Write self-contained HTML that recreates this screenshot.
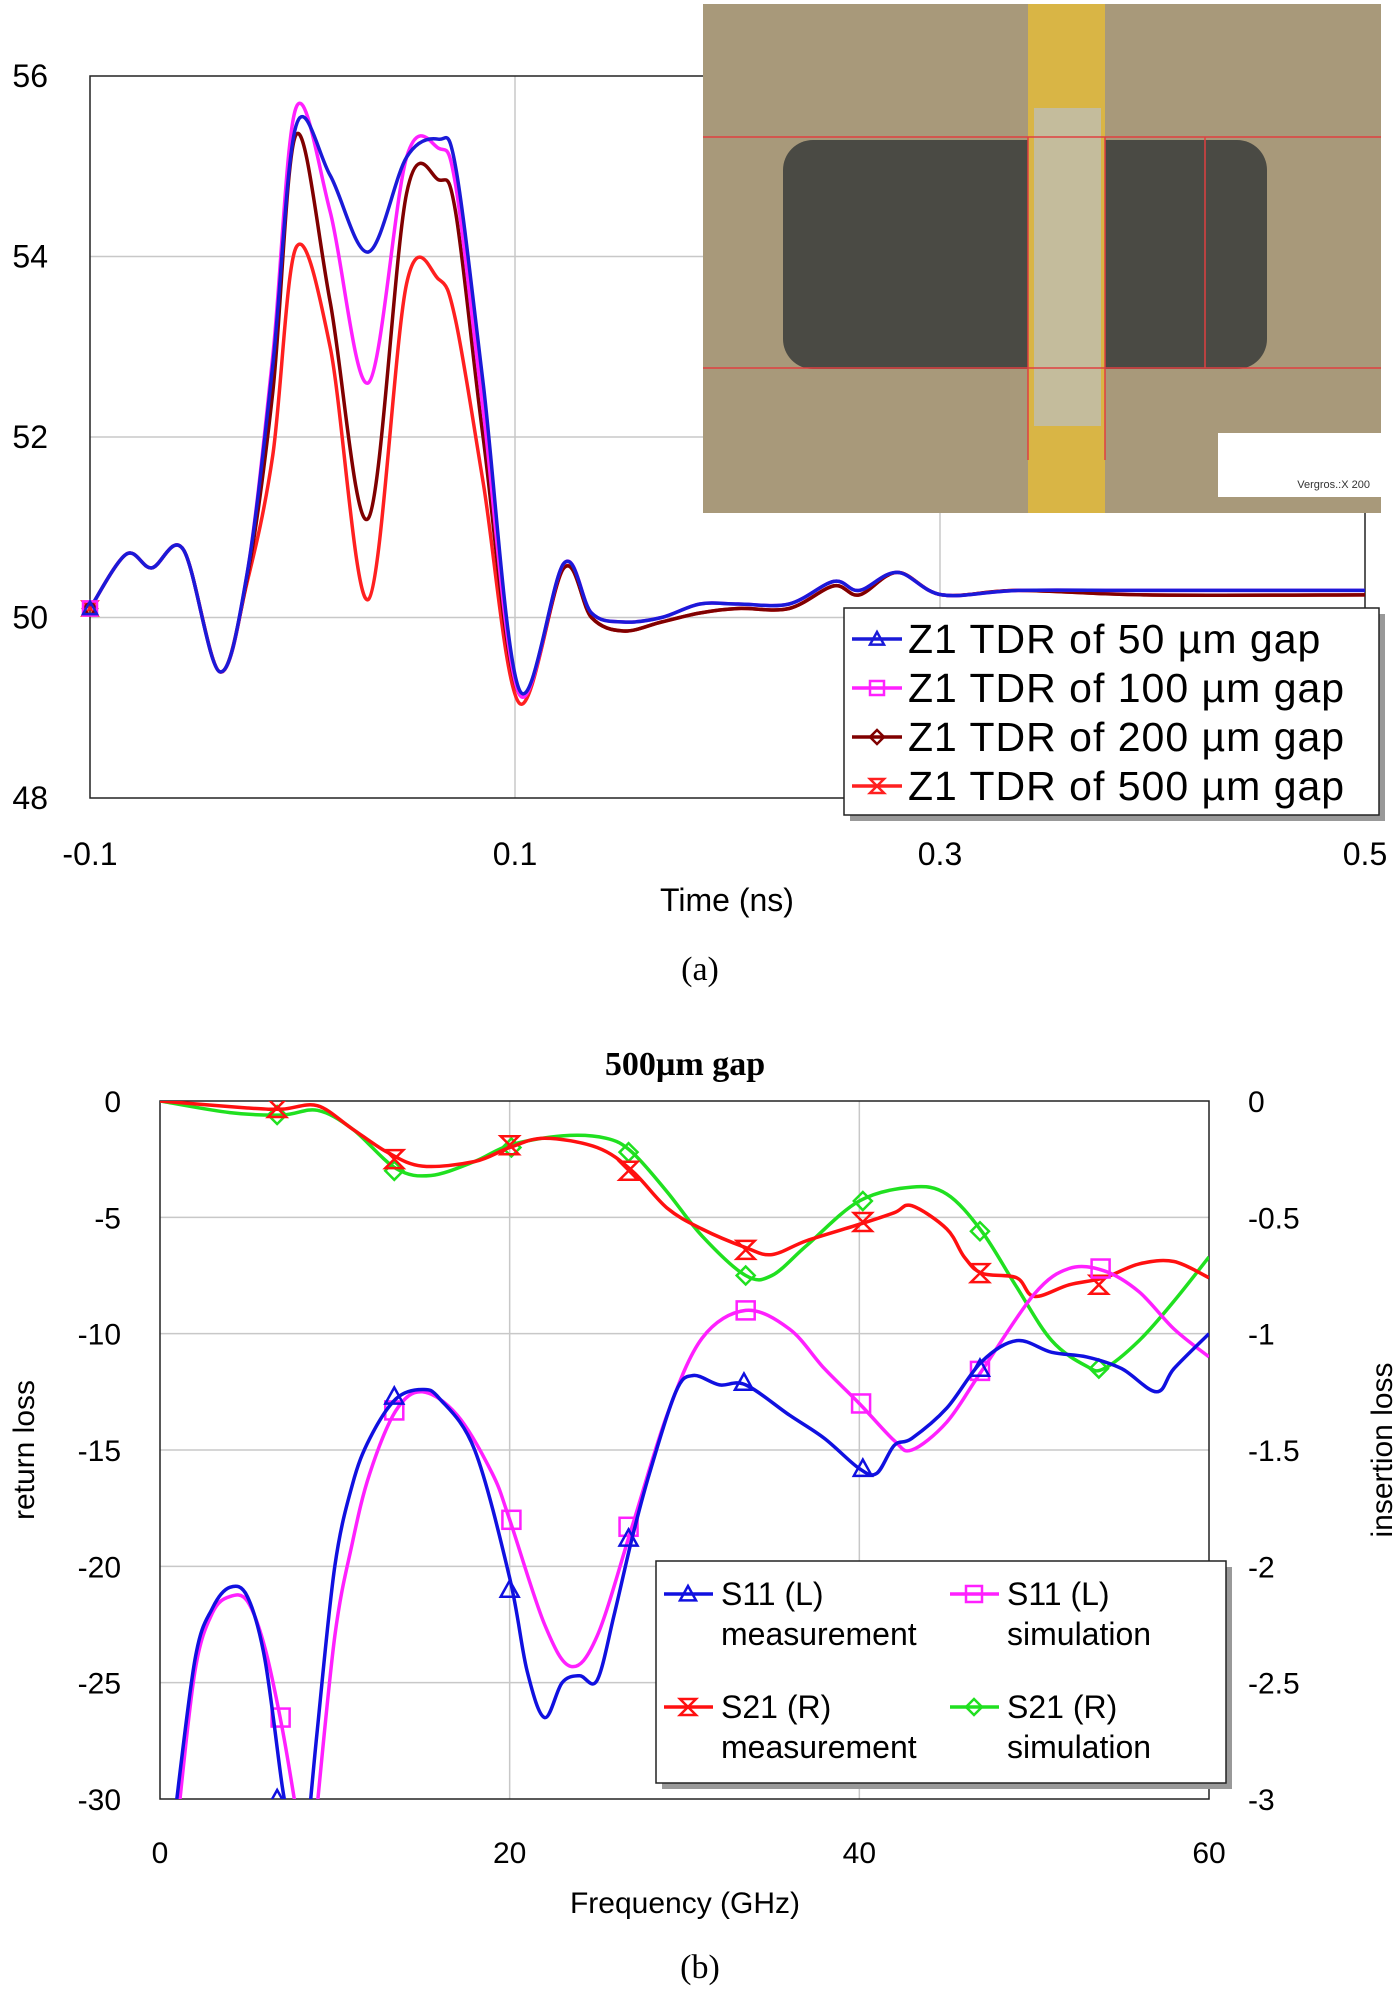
<!DOCTYPE html>
<html><head><meta charset="utf-8"><style>
html,body{margin:0;padding:0;background:#fff;}
svg{display:block;font-family:"Liberation Sans",Arial,sans-serif;}
</style></head><body>
<svg id="fig" width="1400" height="1997" viewBox="0 0 1400 1997" xmlns="http://www.w3.org/2000/svg">
<defs>
<clipPath id="clipA"><rect x="90" y="76" width="1275" height="722"/></clipPath>
<clipPath id="clipB"><rect x="160" y="1101" width="1049" height="698"/></clipPath>
</defs>
<g id="chartA"></g>
<g id="photo">
<rect x="703" y="4" width="678" height="509" fill="#a8997a"/>
<rect x="783" y="140" width="484" height="229" rx="30" fill="#4a4a44"/>
<rect x="1028" y="4" width="77" height="509" fill="#d9b545"/>
<rect x="1034" y="108" width="67" height="318" fill="#c4bc9c"/>
<line x1="703" y1="137" x2="1381" y2="137" stroke="#e04040" stroke-width="1.5"/>
<line x1="703" y1="368" x2="1381" y2="368" stroke="#e04040" stroke-width="1.5"/>
<line x1="1028" y1="137" x2="1028" y2="460" stroke="#e04040" stroke-width="1.5"/>
<line x1="1105" y1="137" x2="1105" y2="460" stroke="#e04040" stroke-width="1.5"/>
<line x1="1205" y1="137" x2="1205" y2="368" stroke="#e04040" stroke-width="1.5"/>
<rect x="1218" y="433" width="163" height="64" fill="#fff"/>
<text x="1370" y="488" font-size="11" text-anchor="end" fill="#333">Vergros.:X 200</text>
</g>
<g id="legendA"></g>
<text x="700" y="980" font-size="34" text-anchor="middle" font-family="Liberation Serif,serif">(a)</text>
<g id="chartB"></g>
<text x="700" y="1978" font-size="34" text-anchor="middle" font-family="Liberation Serif,serif">(b)</text>
</svg>
<script>
// ---------- Chart A data ----------
const tdrTimes = [-0.1,-0.083,-0.071,-0.056,-0.039,-0.026,-0.014,-0.003,0.013,0.031,0.049,0.064,0.072,0.085,0.102,0.123,0.136,0.151,0.169,0.187,0.205,0.229,0.25,0.262,0.28,0.301,0.337,0.397,0.5];
const tdr50  = [50.1,50.7,50.55,50.75,49.4,50.5,52.8,55.45,54.9,54.05,55.1,55.3,55.0,52.6,49.2,50.6,50.05,49.95,50.0,50.15,50.15,50.15,50.4,50.3,50.5,50.25,50.3,50.3,50.3];
const tdr100 = [50.1,50.7,50.55,50.75,49.4,50.5,52.9,55.65,54.5,52.6,55.1,55.2,54.8,52.3,49.15,50.6,50.05,49.95,50.0,50.15,50.15,50.15,50.4,50.3,50.5,50.25,50.3,50.3,50.3];
const tdr200 = [50.1,50.7,50.55,50.75,49.4,50.45,52.5,55.35,53.5,51.1,54.7,54.85,54.5,52.0,49.15,50.55,50.0,49.85,49.95,50.05,50.1,50.1,50.35,50.25,50.5,50.25,50.3,50.25,50.25];
const tdr500 = [50.1,50.7,50.55,50.75,49.4,50.4,51.8,54.1,53.0,50.2,53.7,53.75,53.3,51.5,49.05,50.55,50.0,49.85,49.95,50.05,50.1,50.1,50.35,50.25,50.5,50.25,50.3,50.25,50.25];
const tdrXTicks = [-0.1,0.1,0.3,0.5];
const tdrXLabels = ["-0.1","0.1","0.3","0.5"];
const tdrYTicks = [48,50,52,54,56];
const tdrLegendLabels = ["Z1 TDR of 50 µm gap","Z1 TDR of 100 µm gap","Z1 TDR of 200 µm gap","Z1 TDR of 500 µm gap"];

// ---------- Chart B data ----------
const s11MeasF = [0.8,2,3,4,5,6,7,7.4,null,8.5,9,10,11,12,13.5,15,16,18,20,21,22,23,24,25,26,27,28,29.5,30.5,32,33.5,36,38,40,41,42,43,45,47,49,51,53,55,57,58,60];
const s11MeasV = [-31,-24,-21.8,-20.9,-21.3,-24,-29.5,-31,null,-31,-27,-20,-16.5,-14.5,-12.8,-12.4,-12.8,-15,-20.5,-24.5,-26.5,-25,-24.7,-24.9,-22,-18.8,-16,-12.5,-11.8,-12.2,-12.2,-13.5,-14.5,-15.8,-16,-14.8,-14.5,-13.2,-11.2,-10.3,-10.8,-11,-11.5,-12.5,-11.5,-10];
const s11SimF = [1,2,3,4,5,6,7,7.9,null,8.9,10,11,12,13.5,15,17,19,20,22,23.5,25,27,29,31,33.5,36,38,40,42,43,45,47,50,52,54,56,58,60];
const s11SimV = [-31,-24.5,-22,-21.3,-21.5,-23.5,-27,-31,null,-31,-23,-19,-16,-13.3,-12.5,-13.5,-16,-18,-22.5,-24.3,-23,-18.3,-13.5,-10.2,-9.0,-9.8,-11.5,-13,-14.6,-15,-13.8,-11.6,-8.3,-7.2,-7.3,-8.2,-9.8,-11];
const s21MeasF = [0,5,7,9,11,13,15,18,20,22,25,27,29,31,33.5,35,37,40,42,43,45,46,47,49,50,52,54,56,58,60];
const s21MeasV = [0,-0.03,-0.035,-0.02,-0.12,-0.22,-0.28,-0.26,-0.2,-0.16,-0.2,-0.3,-0.46,-0.55,-0.63,-0.66,-0.6,-0.53,-0.48,-0.45,-0.55,-0.67,-0.74,-0.76,-0.84,-0.79,-0.76,-0.7,-0.69,-0.76];
const s21SimF = [0,4,7,9,11,13.5,15.5,18,20,23,25.5,27,29,31,33.5,35,37,40,43,45,47,49,51,53,54,56,58,60];
const s21SimV = [0,-0.05,-0.06,-0.04,-0.12,-0.29,-0.32,-0.26,-0.19,-0.15,-0.16,-0.22,-0.39,-0.58,-0.75,-0.75,-0.62,-0.43,-0.37,-0.4,-0.56,-0.8,-1.03,-1.14,-1.15,-1.03,-0.86,-0.67];
const s11MeasMarkF = [6.7,13.4,20,26.8,33.4,40.2,46.9];
const s11MeasMarkV = [-30,-12.7,-21,-18.8,-12.1,-15.8,-11.5];
const s11SimMarkF = [6.9,13.4,20.1,26.8,33.5,40.1,46.9,53.8];
const s11SimMarkV = [-26.5,-13.3,-18,-18.3,-9,-13,-11.6,-7.2];
const s21MeasMarkF = [6.7,13.4,20,26.8,33.5,40.2,46.9,53.7];
const s21MeasMarkV = [-0.03,-0.25,-0.19,-0.3,-0.64,-0.52,-0.74,-0.79];
const s21SimMarkF = [6.7,13.4,20.1,26.8,33.5,40.2,46.9,53.7];
const s21SimMarkV = [-0.06,-0.3,-0.2,-0.22,-0.75,-0.43,-0.56,-1.15];
const bXTicks = [0,20,40,60];
const bLeftTicks = [0,-5,-10,-15,-20,-25,-30];
const bRightTicks = [0,-0.5,-1,-1.5,-2,-2.5,-3];
const bRightLabels = ["0","-0.5","-1","-1.5","-2","-2.5","-3"];

const NS="http://www.w3.org/2000/svg";
function mk(tag, attrs, parent){const e=document.createElementNS(NS,tag);for(const k in attrs)e.setAttribute(k,attrs[k]);if(parent)parent.appendChild(e);return e;}
function txt(parent,x,y,s,size,anchor){const t=mk('text',{x:x,y:y,'font-size':size,'text-anchor':anchor||'middle',fill:'#000'},parent);t.textContent=s;return t;}
function smoothPath(pts){
  let d='';let seg=[];const segs=[];
  pts.forEach(p=>{if(p===null){if(seg.length)segs.push(seg);seg=[];}else seg.push(p);});
  if(seg.length)segs.push(seg);
  segs.forEach(s=>{
    d+='M'+s[0][0].toFixed(1)+','+s[0][1].toFixed(1);
    for(let i=0;i<s.length-1;i++){
      const p0=s[Math.max(0,i-1)],p1=s[i],p2=s[i+1],p3=s[Math.min(s.length-1,i+2)];
      const c1x=p1[0]+(p2[0]-p0[0])/6,c1y=p1[1]+(p2[1]-p0[1])/6;
      const c2x=p2[0]-(p3[0]-p1[0])/6,c2y=p2[1]-(p3[1]-p1[1])/6;
      d+='C'+c1x.toFixed(1)+','+c1y.toFixed(1)+' '+c2x.toFixed(1)+','+c2y.toFixed(1)+' '+p2[0].toFixed(1)+','+p2[1].toFixed(1);
    }
  });
  return d;
}
function marker(parent,type,x,y,color,r){
  let e;
  if(type==='tri') e=mk('polygon',{points:`${x},${y-r} ${x+r},${y+r*0.8} ${x-r},${y+r*0.8}`,fill:'none',stroke:color,'stroke-width':2.5},parent);
  else if(type==='sq') e=mk('rect',{x:x-r,y:y-r,width:2*r,height:2*r,fill:'none',stroke:color,'stroke-width':2.5},parent);
  else if(type==='dia') e=mk('polygon',{points:`${x},${y-r} ${x+r},${y} ${x},${y+r} ${x-r},${y}`,fill:'none',stroke:color,'stroke-width':2.5},parent);
  else e=mk('path',{d:`M${x-r},${y-r}L${x+r},${y-r}L${x-r},${y+r}L${x+r},${y+r}Z`,fill:'none',stroke:color,'stroke-width':2.5},parent);
  return e;
}

// ---------- Chart A ----------
(function(){
  const g=document.getElementById('chartA');
  const X0=90,X1=1365,Y0=76,Y1=798;
  const xs=t=>X0+(t+0.1)/0.6*(X1-X0);
  const ys=v=>Y1-(v-48)/8*(Y1-Y0);
  tdrYTicks.forEach(v=>{
    if(v>48&&v<56){const l=mk('line',{x1:X0,x2:X1,y1:ys(v),y2:ys(v),stroke:'#c8c8c8','stroke-width':1.5},g);
    
    }
    const t=txt(g,48,ys(v)+11,String(v),32,'end');
    
    
  });
  tdrXTicks.forEach((v,i)=>{
    if(i>0&&i<tdrXTicks.length-1){const l=mk('line',{x1:xs(v),x2:xs(v),y1:Y0,y2:Y1,stroke:'#c8c8c8','stroke-width':1.5},g);
    
    }
    const t=txt(g,xs(v),865,tdrXLabels[i],32,'middle');
    
    
  });
  const fr=mk('rect',{x:X0,y:Y0,width:X1-X0,height:Y1-Y0,fill:'none',stroke:'#222','stroke-width':1.5},g);
  
  
  const xt=txt(g,727,911,'Time (ns)',32,'middle');
  
  
  const series=[[tdr500,'#ff2020','hg'],[tdr200,'#800000','dia'],[tdr100,'#ff20ff','sq'],[tdr50,'#1a1ad8','tri']];
  const cg=mk('g',{'clip-path':'url(#clipA)'},g);
  series.forEach(s=>{
    const pts=tdrTimes.map((t,i)=>[xs(t),ys(s[0][i])]);
    const p=mk('path',{d:smoothPath(pts),fill:'none',stroke:s[1],'stroke-width':3.5},cg);
    
    
    const m=marker(g,s[2],xs(tdrTimes[0]),ys(s[0][0]),s[1],7);
    
    
  });
  const lg=document.getElementById('legendA');
  mk('rect',{x:850,y:614,width:535,height:207,fill:'#999'},lg);
  const lb=mk('rect',{x:844,y:608,width:535,height:207,fill:'#fff',stroke:'#222','stroke-width':1.5},lg);
  
  
  const lc=[['#1a1ad8','tri'],['#ff20ff','sq'],['#800000','dia'],['#ff2020','hg']];
  tdrLegendLabels.forEach((s,i)=>{
    const y=639+i*49;
    mk('line',{x1:852,x2:902,y1:y,y2:y,stroke:lc[i][0],'stroke-width':3.5},lg);
    marker(lg,lc[i][1],877,y,lc[i][0],7);
    const t=txt(lg,908,y+14,s,41,'start');
    t.setAttribute('letter-spacing','1');
    
    
  });
})();

// ---------- Chart B ----------
(function(){
  const g=document.getElementById('chartB');
  const X0=160,X1=1209,Y0=1101,Y1=1799;
  const xs=f=>X0+f/60*(X1-X0);
  const yl=v=>Y0+(-v)/30*(Y1-Y0);
  const yr=v=>Y0+(-v)/3*(Y1-Y0);
  const tt=mk('text',{x:685,y:1075,'font-size':34,'text-anchor':'middle','font-weight':'bold','font-family':'Liberation Serif,serif'},g);
  tt.textContent='500µm gap';
  
  
  bLeftTicks.forEach(v=>{
    if(v<0&&v>-30){const l=mk('line',{x1:X0,x2:X1,y1:yl(v),y2:yl(v),stroke:'#c8c8c8','stroke-width':1.5},g);
    
    }
    const t=txt(g,121,yl(v)+11,String(v),30,'end');
    
    
  });
  bRightTicks.forEach((v,i)=>{
    const t=txt(g,1248,yr(v)+11,bRightLabels[i],30,'start');
    
    
  });
  bXTicks.forEach(v=>{
    if(v>0&&v<60){const l=mk('line',{x1:xs(v),x2:xs(v),y1:Y0,y2:Y1,stroke:'#c8c8c8','stroke-width':1.5},g);
    
    }
    const t=txt(g,xs(v),1863,String(v),30,'middle');
    
    
  });
  const fr=mk('rect',{x:X0,y:Y0,width:X1-X0,height:Y1-Y0,fill:'none',stroke:'#222','stroke-width':1.5},g);
  
  
  const xt=txt(g,685,1913,'Frequency (GHz)',30,'middle');
  
  
  const yt=txt(g,0,0,'return loss',30,'middle');
  yt.setAttribute('transform','translate(34,1450) rotate(-90)');
  
  
  const yt2=txt(g,0,0,'insertion loss',30,'middle');
  yt2.setAttribute('transform','translate(1392,1450) rotate(-90)');
  
  
  const cg=mk('g',{'clip-path':'url(#clipB)'},g);
  const series=[
    [s21SimF,s21SimV,yr,'#20e020','dia',s21SimMarkF,s21SimMarkV],
    [s21MeasF,s21MeasV,yr,'#ff1010','hg',s21MeasMarkF,s21MeasMarkV],
    [s11SimF,s11SimV,yl,'#ff20ff','sq',s11SimMarkF,s11SimMarkV],
    [s11MeasF,s11MeasV,yl,'#1010e0','tri',s11MeasMarkF,s11MeasMarkV]
  ];
  series.forEach(s=>{
    const pts=s[0].map((f,i)=>f===null?null:[xs(f),s[2](s[1][i])]);
    const p=mk('path',{d:smoothPath(pts),fill:'none',stroke:s[3],'stroke-width':3.5},cg);
    
    
    s[5].forEach((f,i)=>{
      const m=marker(cg,s[4],xs(f),s[2](s[6][i]),s[3],9);
      
      
    });
  });
  const lg=mk('g',{},g);
  
  
  mk('rect',{x:662,y:1567,width:570,height:222,fill:'#999'},lg);
  mk('rect',{x:656,y:1561,width:570,height:222,fill:'#fff',stroke:'#222','stroke-width':1.5},lg);
  const items=[[664,1594,'#1010e0','tri','S11 (L)','measurement'],[950,1594,'#ff20ff','sq','S11 (L)','simulation'],
               [664,1707,'#ff1010','hg','S21 (R)','measurement'],[950,1707,'#20e020','dia','S21 (R)','simulation']];
  items.forEach(it=>{
    mk('line',{x1:it[0],x2:it[0]+49,y1:it[1],y2:it[1],stroke:it[2],'stroke-width':3.5},lg);
    marker(lg,it[3],it[0]+24,it[1],it[2],8);
    const t1=txt(lg,it[0]+57,it[1]+11,it[4],32,'start');
    
    
    const t2=txt(lg,it[0]+57,it[1]+51,it[5],32,'start');
    
    
  });
})();
</script>
</body></html>
